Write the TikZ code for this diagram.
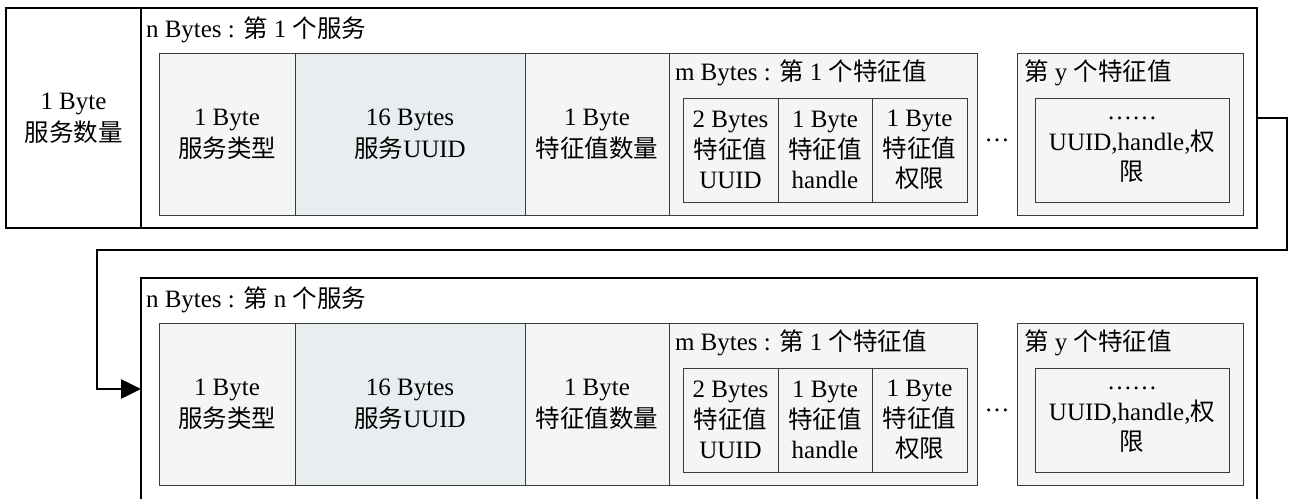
\documentclass[tikz,border=0pt]{standalone}
\usepackage{fontspec}
\setmainfont{Liberation Serif}
\newfontfamily\cjk[Scale=0.98]{Noto Sans CJK SC}
\usetikzlibrary{arrows.meta}
\definecolor{cellgray}{HTML}{F5F5F5}
\definecolor{uuidblue}{HTML}{E8EEF0}
\definecolor{cellline}{HTML}{3A3A3A}
\newcommand{\zh}[1]{{\cjk #1}}
\begin{document}
\begin{tikzpicture}[x=1pt,y=-1pt,
  every node/.style={font=\fontsize{25}{32}\selectfont, inner sep=0pt, outer sep=0pt, align=center},
  outerbox/.style={draw=black, line width=2.6pt},
  cell/.style={draw=cellline, line width=1pt, fill=cellgray, minimum height=162pt},
  uuidcell/.style={cell, fill=uuidblue},
  subcell/.style={draw=cellline, line width=1pt, fill=cellgray, minimum height=104pt,
    font=\fontsize{25}{30.5}\selectfont},
  conn/.style={draw=black, line width=2.6pt, line join=miter, -{Triangle[length=20pt,width=19pt]}},
  lbl/.style={anchor=west}]
\useasboundingbox (0,0) rectangle (1290,498);

% first row: count cell and first service container
\node[outerbox, minimum width=135pt, minimum height=220pt] (cnt) at (73.5,118)
  {1 Byte\\\zh{服务数量}};
\node[outerbox, minimum width=1116pt, minimum height=220pt] (svc1) at (699,118) {};
% second service container (open at the bottom)
\node[minimum width=1116pt, minimum height=222pt] (svc2) at (699,389) {};
\draw[draw=black, line width=2.6pt, line join=miter]
  (svc2.south west) -- (svc2.north west) -- (svc2.north east) -- (svc2.south east);

\foreach \r/\dy/\k in {1/0/1, 2/270/n}{
  \node[lbl] (lab\r) at (146,30+\dy) {n Bytes : \zh{第} \k{} \zh{个服务}};
  \node[cell, minimum width=136pt] (type\r) at (227,134+\dy) {1 Byte\\\zh{服务类型}};
  \node[uuidcell, minimum width=230pt] (uuid\r) at (410,134+\dy) {16 Bytes\\\zh{服务}UUID};
  \node[cell, minimum width=144pt] (num\r) at (597,134+\dy) {1 Byte\\\zh{特征值数量}};
  \node[cell, minimum width=308pt] (mbox\r) at (823,134+\dy) {};
  \node[lbl] (mlab\r) at (675,73+\dy) {m Bytes : \zh{第} 1 \zh{个特征值}};
  \node[subcell, minimum width=95pt] (ca\r) at (730.5,150+\dy) {2 Bytes\\\zh{特征值}\\UUID};
  \node[subcell, minimum width=94pt] (cb\r) at (825,150+\dy) {1 Byte\\\zh{特征值}\\handle};
  \node[subcell, minimum width=95pt] (cc\r) at (919.5,150+\dy) {1 Byte\\\zh{特征值}\\\zh{权限}};
  \node[anchor=base] (dots\r) at (997,141+\dy) {…};
  \node[cell, minimum width=226pt] (ybox\r) at (1130,134+\dy) {};
  \node[lbl] (ylab\r) at (1024,73+\dy) {\zh{第} y \zh{个特征值}};
  \node[subcell, minimum width=194pt] (yin\r) at (1132,150+\dy)
    {……\\UUID,handle,\zh{权}\\\zh{限}};
}

% connector from first service to n-th service
\coordinate (c1) at (1287,250);
\coordinate (c2) at (97,250);
\draw[conn] (svc1.east) -| (c1) -- (c2) |- (svc2.west);
\end{tikzpicture}
\end{document}
